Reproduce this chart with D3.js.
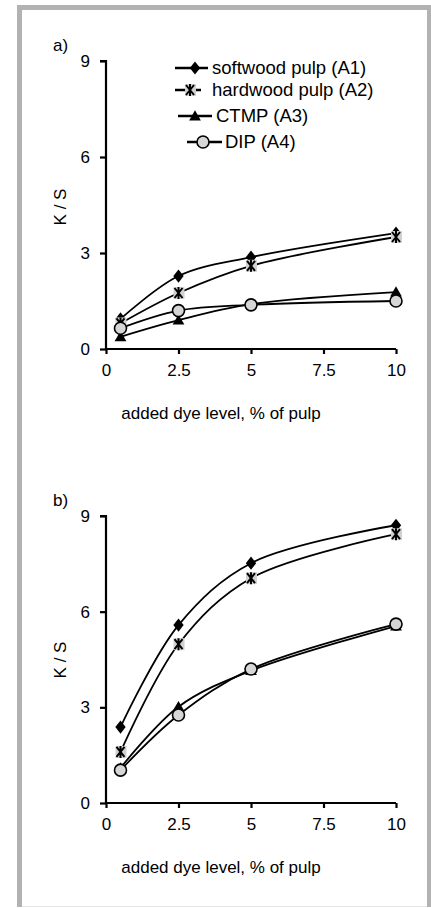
<!DOCTYPE html>
<html><head><meta charset="utf-8">
<script src="https://cdn.jsdelivr.net/npm/d3@7"></script>
<style>body{margin:0;background:#fff}svg{display:block;font-family:"Liberation Sans",Arial,sans-serif}</style>
</head><body><svg id="c" width="431" height="908"></svg>
<script>
const xValues = [0.5, 2.5, 5, 10];
const xTicks = [0, 2.5, 5, 7.5, 10];
const yTicks = [0, 3, 6, 9];
const seriesNames = ["softwood pulp (A1)", "hardwood pulp (A2)", "CTMP (A3)", "DIP (A4)"];
const seriesMarkers = ["diamond", "star", "triangle", "circle"];
const panelA_A1 = [0.94, 2.28, 2.87, 3.62];
const panelA_A2 = [0.8, 1.75, 2.6, 3.5];
const panelA_A3 = [0.38, 0.9, 1.4, 1.78];
const panelA_A4 = [0.65, 1.2, 1.38, 1.5];
const panelB_A1 = [2.38, 5.58, 7.52, 8.71];
const panelB_A2 = [1.6, 4.98, 7.05, 8.43];
const panelB_A3 = [1.1, 3.02, 4.15, 5.55];
const panelB_A4 = [1.03, 2.76, 4.2, 5.61];
const panelLabels = ["a)", "b)"];
const xTitle = "added dye level, % of pulp";
const yTitle = "K / S";

const svg = d3.select("#c");
// frame (left, top, right in grey; faint bottom)
svg.append("path").attr("d", "M19.5,907V7.5H429.5V907")
  .attr("fill", "none").attr("stroke", "#b2b2b2").attr("stroke-width", 5);
svg.append("line").attr("x1", 22).attr("x2", 427).attr("y1", 906.5).attr("y2", 906.5)
  .attr("stroke", "#e6e6e6").attr("stroke-width", 1);

function marker(g, type, x, y) {
  if (type === "diamond") {
    g.append("path").attr("d", d3.symbol(d3.symbolDiamond, 70)()).attr("transform", `translate(${x},${y}) scale(1.15,0.85)`)
      .attr("fill", "#000");
  } else if (type === "triangle") {
    g.append("path").attr("d", d3.symbol(d3.symbolTriangle, 60)()).attr("transform", `translate(${x},${y+1})`)
      .attr("fill", "#000");
  } else if (type === "circle") {
    g.append("circle").attr("cx", x).attr("cy", y).attr("r", 6)
      .attr("fill", "#d6d6d6").attr("stroke", "#000").attr("stroke-width", 1.6);
  } else if (type === "star") {
    g.append("rect").attr("x", x - 5).attr("y", y - 6).attr("width", 11).attr("height", 12).attr("fill", "#d0d0d0");
    g.append("path").attr("d", `M${x-4},${y-5}L${x+4},${y+5}M${x+4},${y-5}L${x-4},${y+5}M${x},${y-6}V${y+6}`)
      .attr("stroke", "#000").attr("stroke-width", 2).attr("fill", "none");
  }
}

function panel(cfg) {
  const x = d3.scaleLinear().domain([0, 10]).range([106, 396]);
  const y = d3.scaleLinear().domain([0, 9]).range([cfg.y0, cfg.y9]);
  const g = svg.append("g");
  const xa = g.append("g").attr("transform", `translate(0,${cfg.y0})`)
    .call(d3.axisBottom(x).tickValues(xTicks).tickFormat(d3.format("")).tickSize(5).tickPadding(10));
  const ya = g.append("g").attr("transform", `translate(106,0)`)
    .call(d3.axisLeft(y).tickValues(yTicks).tickSize(6).tickPadding(10));
  [xa, ya].forEach(a => {
    a.select(".domain").attr("stroke", "#000").attr("stroke-width", 2.2);
    a.selectAll(".tick line").attr("stroke", "#000").attr("stroke-width", 2.2);
    a.selectAll("text").attr("font-size", 17).attr("fill", "#000").attr("font-family", "Liberation Sans, Arial, sans-serif");
  });
  ya.select(".domain").attr("d", `M-6,${cfg.y9}H0V${cfg.y0}`);
  xa.select(".domain").attr("d", `M106,0H396`);
  g.append("text").attr("x", 221).attr("y", cfg.y0 + 70).attr("text-anchor", "middle")
    .attr("font-size", 17).text(xTitle);
  g.append("text").attr("transform", `translate(66,${cfg.ymid}) rotate(-90)`).attr("text-anchor", "middle")
    .attr("font-size", 17).text(yTitle);
  g.append("text").attr("x", 53).attr("y", cfg.y9 - 10).attr("font-size", 17).text(cfg.label);
  const line = d3.line().x((d, i) => x(xValues[i])).y(d => y(d)).curve(d3.curveCatmullRom.alpha(0.5));
  cfg.series.forEach((s, k) => {
    g.append("path").attr("d", line(s)).attr("fill", "none").attr("stroke", "#000").attr("stroke-width", 1.8);
  });
  cfg.series.forEach((s, k) => {
    s.forEach((v, i) => marker(g, seriesMarkers[k], x(xValues[i]), y(v)));
  });
}

panel({y0: 349, y9: 61, ymid: 207, label: panelLabels[0], series: [panelA_A1, panelA_A2, panelA_A3, panelA_A4]});
panel({y0: 803, y9: 516, ymid: 660, label: panelLabels[1], series: [panelB_A1, panelB_A2, panelB_A3, panelB_A4]});

// legend (panel a)
const leg = svg.append("g");
const legRows = [
  {y: 68, x1: 175, x2: 208, mx: 195, tx: 212},
  {y: 90, x1: 175, x2: 201, mx: 190, tx: 212},
  {y: 116, x1: 178, x2: 212, mx: 195, tx: 216},
  {y: 142, x1: 187, x2: 222, mx: 203, tx: 225}
];
legRows.forEach((r, k) => {
  leg.append("line").attr("x1", r.x1).attr("x2", r.x2).attr("y1", r.y).attr("y2", r.y)
    .attr("stroke", "#000").attr("stroke-width", 2.5);
  marker(leg, seriesMarkers[k], r.mx, r.y);
  leg.append("text").attr("x", r.tx).attr("y", r.y + 6).attr("font-size", 18.5).text(seriesNames[k]);
});
</script></body></html>
